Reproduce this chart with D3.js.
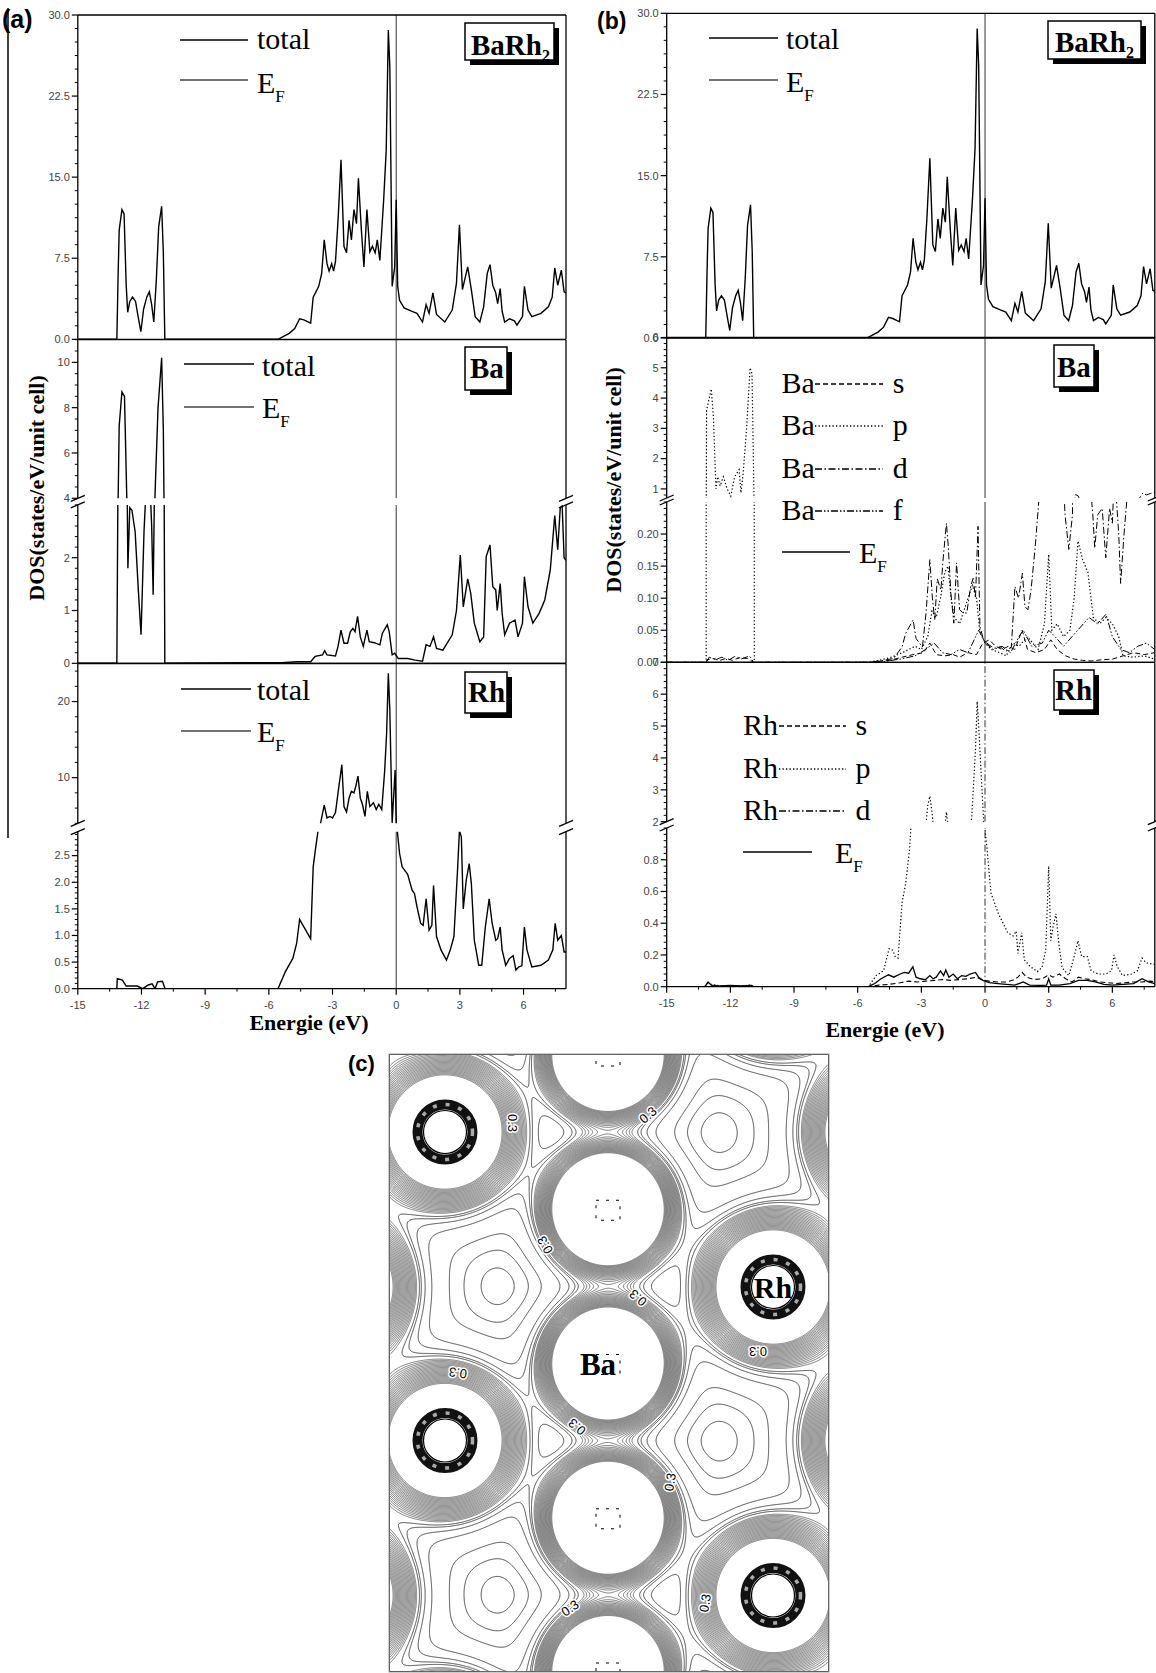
<!DOCTYPE html>
<html>
<head>
<meta charset="utf-8">
<script src="https://cdnjs.cloudflare.com/ajax/libs/d3/7.8.5/d3.min.js"></script>
<style>
body { margin: 0; background: #fff; }
svg { display: block; }
</style>
</head>
<body>
<script>
// ---- data -------------------------------------------------------------
var energyTicks = [-15, -12, -9, -6, -3, 0, 3, 6];

// total DOS BaRh2 [E (eV), states/eV/unit cell]
var totalDOS = [[-15,0],[-13.16,0],[-13.1,6],[-13.05,10.1],[-12.92,12.0],[-12.82,11.6],[-12.72,5],[-12.65,2.5],[-12.55,3.5],[-12.42,3.9],[-12.28,3.5],[-12.15,2.0],[-12.03,0.7],[-11.9,2.8],[-11.75,3.9],[-11.63,4.4],[-11.52,3.2],[-11.42,1.6],[-11.3,5.5],[-11.19,10.4],[-11.05,12.3],[-10.97,8],[-10.9,0],
  [-5.57,0],[-5.04,0.55],[-4.78,1.0],[-4.55,1.9],[-4.35,1.8],[-4.03,1.5],[-3.91,3.9],[-3.65,4.9],[-3.51,6.1],[-3.39,9.2],[-3.26,7.0],[-3.16,6.3],[-3.04,7.0],[-2.95,6.3],[-2.86,7.2],[-2.74,11.0],[-2.6,16.6],[-2.46,8.6],[-2.34,8.0],[-2.22,11.0],[-2.11,9.2],[-1.99,12.0],[-1.87,10.7],[-1.78,14.9],[-1.64,10.1],[-1.52,6.7],[-1.38,12.0],[-1.24,8.1],[-1.12,8.6],[-0.99,8.0],[-0.89,9.2],[-0.77,7.3],[-0.59,12.9],[-0.47,17.5],[-0.37,28.6],[-0.3,25.2],[-0.19,4.9],[-0.07,6.7],[0.0,12.9],[0.07,4.9],[0.16,3.6],[0.37,2.9],[0.72,2.6],[0.98,2.4],[1.24,1.6],[1.41,3.2],[1.55,2.4],[1.73,4.3],[1.9,2.3],[2.29,1.6],[2.64,2.7],[2.84,5.2],[2.98,10.6],[3.12,4.6],[3.37,6.7],[3.54,4.6],[3.72,2.1],[3.94,1.6],[4.12,3.0],[4.29,6.1],[4.42,6.9],[4.55,5.0],[4.69,4.3],[4.78,3.3],[4.9,4.7],[4.99,2.6],[5.11,1.6],[5.34,1.9],[5.57,1.7],[5.69,1.3],[5.95,2.1],[6.04,4.9],[6.21,2.7],[6.39,2.1],[6.82,2.4],[7.17,3.0],[7.35,3.9],[7.47,6.6],[7.61,5.0],[7.78,6.4],[7.91,4.4],[8.0,4.3]];

// Ba total (a)
var baTotal = [[-15,0],[-13.16,0],[-13.05,7.2],[-12.92,8.7],[-12.8,8.5],[-12.68,3.5],[-12.64,1.8],[-12.55,2.95],[-12.45,2.9],[-12.3,2.5],[-12.15,1.4],[-12.02,0.54],[-11.88,2.5],[-11.75,3.6],[-11.62,3.6],[-11.52,2.6],[-11.45,1.3],[-11.35,4.5],[-11.22,8.0],[-11.05,10.2],[-10.97,7],[-10.9,0],
  [-6.96,0.01],[-5.39,0.01],[-4.69,0.03],[-4.03,0.03],[-3.82,0.13],[-3.47,0.16],[-3.37,0.24],[-3.26,0.16],[-2.86,0.14],[-2.74,0.32],[-2.6,0.63],[-2.46,0.38],[-2.29,0.38],[-2.16,0.6],[-2.04,0.66],[-1.94,0.6],[-1.82,0.89],[-1.69,0.5],[-1.55,0.32],[-1.38,0.63],[-1.27,0.41],[-1.03,0.39],[-0.77,0.35],[-0.65,0.57],[-0.42,0.73],[-0.33,0.6],[-0.19,0.16],[-0.07,0.19],[0.1,0.09],[0.54,0.09],[0.89,0.06],[1.24,0.04],[1.41,0.35],[1.59,0.32],[1.76,0.5],[1.9,0.28],[2.2,0.25],[2.64,0.54],[2.84,1.0],[3.02,2.05],[3.16,1.07],[3.37,1.6],[3.51,1.33],[3.68,0.76],[3.94,0.41],[4.12,0.5],[4.24,2.02],[4.42,2.24],[4.55,1.45],[4.69,1.39],[4.76,1.0],[4.9,1.51],[4.99,0.95],[5.11,0.54],[5.34,0.76],[5.6,0.82],[5.74,0.5],[5.95,0.76],[6.04,1.64],[6.21,1.07],[6.44,0.76],[6.74,0.95],[7.0,1.2],[7.26,1.77],[7.47,2.8],[7.61,2.15],[7.73,2.95],[7.82,2.98],[7.91,2.0],[8.0,1.95]];

// Rh total (a)
var rhTotal = [[-15,0],[-13.16,0],[-13.14,0.19],[-12.9,0.16],[-12.72,0.05],[-12.2,0.05],[-11.94,0.0],[-11.68,0.07],[-11.5,0.09],[-11.36,0.0],[-11.24,0.13],[-11.01,0.14],[-10.89,0],[-5.57,0],[-5.22,0.32],[-4.87,0.57],[-4.69,0.85],[-4.55,1.3],[-4.35,1.16],[-4.03,0.94],[-3.91,2.29],[-3.79,2.66],[-3.68,2.97],[-3.6,3.5],[-3.56,4.06],[-3.39,6.4],[-3.26,4.7],[-3.12,4.9],[-3.0,4.7],[-2.86,5.4],[-2.74,8.0],[-2.56,11.7],[-2.46,6.2],[-2.34,5.5],[-2.22,7.3],[-2.11,8.2],[-1.99,8.0],[-1.9,8.9],[-1.8,10.2],[-1.69,7.3],[-1.59,6.5],[-1.47,4.9],[-1.36,8.2],[-1.24,6.2],[-1.07,6.7],[-0.94,5.8],[-0.82,6.5],[-0.68,5.8],[-0.54,11.0],[-0.45,15.9],[-0.37,23.7],[-0.3,18.9],[-0.19,4.06],[-0.05,11.0],[0.0,4.0],[0.05,2.97],[0.16,2.54],[0.28,2.29],[0.54,2.15],[0.75,1.85],[0.86,1.79],[0.98,1.54],[1.15,1.23],[1.27,1.19],[1.41,1.69],[1.55,1.1],[1.68,1.19],[1.76,1.94],[1.9,0.98],[2.11,0.73],[2.37,0.54],[2.55,0.73],[2.72,0.98],[2.89,2.23],[2.98,2.97],[3.07,2.85],[3.16,1.5],[3.3,2.04],[3.44,2.35],[3.54,1.98],[3.68,0.91],[3.89,0.44],[4.03,0.44],[4.2,1.16],[4.38,1.69],[4.52,1.23],[4.69,0.91],[4.78,0.94],[4.9,1.16],[4.99,0.73],[5.16,0.44],[5.34,0.57],[5.51,0.62],[5.64,0.35],[5.78,0.41],[5.92,0.43],[6.04,1.16],[6.16,0.73],[6.39,0.41],[6.82,0.44],[7.17,0.54],[7.38,0.73],[7.49,1.23],[7.61,0.91],[7.78,1.0],[7.91,0.69],[8.0,0.69]];

// Ba partial DOS (b)
var baS = [[-15,0],[-13.13,0],[-13.1,0.004],[-12.8,0.006],[-12.5,0.003],[-12.2,0.006],[-11.9,0.003],[-11.6,0.007],[-11.2,0.006],[-10.9,0],[-5.4,0],[-4.5,0.003],[-3.9,0.008],[-3.4,0.012],[-2.9,0.015],[-2.6,0.03],[-2.3,0.012],[-1.9,0.01],[-1.5,0.012],[-1.2,0.008],[-0.8,0.015],[-0.4,0.012],[-0.1,0.03],[0.2,0.035],[0.5,0.025],[0.8,0.02],[1.1,0.025],[1.4,0.02],[1.75,0.05],[2.0,0.02],[2.4,0.015],[2.8,0.02],[3.1,0.035],[3.4,0.02],[3.8,0.01],[4.2,0.005],[4.6,0.003],[5.0,0.002],[5.5,0.004],[6.0,0.005],[6.5,0.01],[7.0,0.015],[7.5,0.012],[8.0,0.015]];
var baP = [[-15,0],[-13.14,0],[-13.12,3.6],[-12.9,4.3],[-12.8,3.4],[-12.68,1.0],[-12.6,1.4],[-12.48,1.1],[-12.33,1.4],[-12.15,1.0],[-11.98,0.76],[-11.8,1.4],[-11.59,1.64],[-11.5,0.87],[-11.4,1.5],[-11.24,2.95],[-11.07,5.0],[-10.98,4.8],[-10.87,0],
  [-5.6,0],[-5.0,0.003],[-4.4,0.008],[-3.9,0.015],[-3.6,0.02],[-3.3,0.025],[-3.0,0.02],[-2.7,0.04],[-2.5,0.08],[-2.3,0.07],[-2.1,0.1],[-1.9,0.14],[-1.75,0.15],[-1.6,0.1],[-1.45,0.07],[-1.2,0.06],[-0.9,0.09],[-0.6,0.12],[-0.4,0.1],[-0.25,0.05],[0,0.03],[0.3,0.02],[0.7,0.015],[1.0,0.01],[1.3,0.03],[1.6,0.025],[2.0,0.04],[2.5,0.02],[2.8,0.06],[3.0,0.168],[3.15,0.05],[3.4,0.06],[3.7,0.04],[4.0,0.05],[4.2,0.1],[4.38,0.189],[4.6,0.16],[4.85,0.14],[5.1,0.07],[5.4,0.06],[5.7,0.07],[6.0,0.06],[6.3,0.04],[6.5,0.01],[7.0,0.008],[7.5,0.01],[8.0,0.005]];
var baD = [[-15,0],[-13.13,0],[-13.0,0.008],[-12.7,0.004],[-12.4,0.008],[-12.1,0.003],[-11.8,0.009],[-11.5,0.005],[-11.1,0.01],[-10.9,0],
  [-5.4,0],[-4.8,0.003],[-4.3,0.006],[-3.91,0.024],[-3.74,0.045],[-3.39,0.066],[-3.25,0.037],[-2.95,0.024],[-2.78,0.077],[-2.6,0.16],[-2.48,0.10],[-2.37,0.066],[-2.25,0.13],[-2.08,0.113],[-1.99,0.155],[-1.82,0.217],[-1.73,0.18],[-1.61,0.108],[-1.47,0.061],[-1.34,0.155],[-1.2,0.082],[-1.03,0.077],[-0.86,0.077],[-0.68,0.118],[-0.56,0.131],[-0.45,0.10],[-0.33,0.212],[-0.24,0.056],[-0.07,0.035],[0.19,0.027],[0.45,0.022],[0.72,0.024],[0.98,0.017],[1.24,0.024],[1.41,0.118],[1.58,0.10],[1.76,0.139],[1.88,0.087],[2.02,0.082],[2.17,0.113],[2.38,0.186],[2.6,0.28],[2.9,0.45],[3.25,0.55],[3.55,0.4],[3.77,0.23],[3.95,0.176],[4.12,0.23],[4.26,0.81],[4.38,0.78],[4.56,0.5],[4.9,0.3],[5.08,0.23],[5.17,0.178],[5.31,0.23],[5.52,0.24],[5.69,0.163],[5.87,0.24],[6.0,0.217],[6.1,0.3],[6.3,0.2],[6.39,0.123],[6.55,0.2],[6.8,0.3],[7.1,0.5],[7.44,0.87],[7.6,0.8],[7.8,0.85],[8.0,0.9]];
var baF = [[-15,0],[-5.0,0],[-4.0,0.005],[-3.3,0.01],[-2.8,0.02],[-2.4,0.03],[-2.0,0.015],[-1.6,0.012],[-1.2,0.02],[-0.8,0.015],[-0.3,0.05],[0.0,0.03],[0.4,0.02],[0.8,0.025],[1.2,0.015],[1.6,0.04],[1.8,0.05],[2.2,0.025],[2.7,0.03],[3.0,0.05],[3.3,0.04],[3.7,0.025],[4.1,0.04],[4.5,0.055],[4.9,0.07],[5.3,0.06],[5.7,0.075],[6.0,0.04],[6.4,0.02],[6.8,0.015],[7.2,0.025],[7.6,0.03],[8.0,0.02]];

// Rh partial DOS (b)
var rhS = [[-15,0],[-5.5,0],[-5.0,0.01],[-4.5,0.015],[-4.0,0.025],[-3.6,0.035],[-3.2,0.03],[-2.8,0.035],[-2.4,0.04],[-2.0,0.045],[-1.6,0.04],[-1.2,0.045],[-0.8,0.05],[-0.4,0.06],[-0.1,0.04],[0.2,0.035],[0.6,0.03],[1.0,0.03],[1.3,0.04],[1.55,0.06],[1.75,0.09],[1.95,0.06],[2.3,0.045],[2.7,0.05],[3.0,0.075],[3.2,0.06],[3.5,0.08],[3.8,0.05],[4.1,0.03],[4.4,0.06],[4.7,0.05],[5.0,0.045],[5.4,0.03],[5.8,0.025],[6.2,0.02],[6.6,0.025],[7.0,0.03],[7.4,0.03],[7.8,0.035],[8.0,0.03]];
var rhP = [[-15,0],[-13.2,0],[-13.1,0.02],[-12.9,0.015],[-12.5,0.005],[-11.5,0.005],[-11.1,0.01],[-10.9,0],
  [-5.5,0],[-5.13,0.07],[-4.78,0.1],[-4.52,0.24],[-4.35,0.23],[-4.23,0.19],[-4.1,0.18],[-3.91,0.53],[-3.74,0.65],[-3.56,0.86],[-3.4,1.2],[-3.1,1.5],[-2.8,1.8],[-2.7,2.5],[-2.6,2.8],[-2.5,2.3],[-2.4,1.6],[-2.1,1.5],[-1.9,1.8],[-1.82,2.3],[-1.75,1.9],[-1.5,1.5],[-1.0,1.6],[-0.7,1.9],[-0.63,2.1],[-0.45,4.25],[-0.37,5.77],[-0.28,4.77],[-0.16,3.2],[-0.07,2.1],[0.0,0.99],[0.1,0.86],[0.28,0.59],[0.63,0.46],[1.07,0.34],[1.33,0.32],[1.47,0.35],[1.55,0.21],[1.73,0.34],[1.85,0.17],[2.11,0.13],[2.46,0.095],[2.68,0.12],[2.86,0.23],[3.0,0.76],[3.1,0.29],[3.21,0.38],[3.34,0.46],[3.48,0.27],[3.63,0.12],[3.95,0.07],[4.2,0.19],[4.38,0.29],[4.55,0.19],[4.82,0.19],[5.0,0.1],[5.34,0.08],[5.7,0.08],[5.96,0.1],[6.08,0.2],[6.22,0.13],[6.48,0.07],[6.92,0.08],[7.18,0.1],[7.4,0.18],[7.6,0.15],[8.0,0.14]];
var rhD = [[-15,0],[-13.2,0],[-13.05,0.03],[-12.9,0.01],[-12.5,0.005],[-12,0.008],[-11.5,0.005],[-11,0.008],[-10.9,0],[-5.5,0],[-5.2,0.02],[-4.9,0.05],[-4.55,0.075],[-4.3,0.06],[-4.0,0.08],[-3.8,0.09],[-3.6,0.085],[-3.4,0.125],[-3.25,0.06],[-3.05,0.05],[-2.8,0.045],[-2.6,0.07],[-2.45,0.05],[-2.3,0.06],[-2.1,0.1],[-1.95,0.07],[-1.85,0.105],[-1.7,0.06],[-1.5,0.08],[-1.3,0.05],[-1.1,0.07],[-0.9,0.065],[-0.7,0.08],[-0.45,0.09],[-0.3,0.06],[-0.1,0.04],[0.2,0.025],[0.6,0.02],[1.0,0.015],[1.4,0.01],[1.6,0.02],[1.8,0.03],[2.1,0.01],[2.6,0.008],[2.9,0.01],[3.0,0.05],[3.1,0.01],[3.5,0.01],[4.0,0.02],[4.4,0.04],[4.8,0.04],[5.2,0.03],[5.6,0.015],[6.0,0.01],[6.5,0.015],[7.0,0.02],[7.4,0.05],[7.7,0.03],[8.0,0.02]];

// contour map (c): atom sites in map units (0..440 x 0..618), repeated by the cell periods
var baBase = [[219, 1]];
var rhBase = [[56, 78], [384, 233]];
var cellX = 437, baCellY = 154.25, rhCellY = 308.5;
var contourLabels = [[124,69,90],[259,61,-40],[156,191,240],[249,244,220],[369,298,180],[69,319,188],[188,373,220],[281,428,280],[181,554,-35],[316,549,-80]];
// sparse levels: rings around the density minima, then lines around the Ba-Rh saddle
var holeSteps = [1.35, 2.4, 4.5];
var saddleSteps = [0.6, 0.85, 1.04, 1.15];

// ---- drawing ----------------------------------------------------------
var svg = d3.select("body").append("svg").attr("width", 1156).attr("height", 1673);
var serif = "'Liberation Serif','Times New Roman',serif";
var sans = "'Liberation Sans',Arial,sans-serif";
var dashes = { dash: "5,3", dot: "1.3,2.2", dashdot: "7,2.5,1.5,2.5", dashdotdot: "7,2,1.5,2,1.5,2" };
var clipN = 0;

function drawPanel(p) {
  var x = d3.scaleLinear().domain([-15, 8]).range([p.left, p.right]);
  var g = svg.append("g");
  p.segs.forEach(function(s) {
    var y = d3.scaleLinear().domain(s.dom).range(s.rng);
    var id = "clip" + (clipN++);
    svg.append("clipPath").attr("id", id).append("rect")
      .attr("x", p.left).attr("y", s.rng[1])
      .attr("width", p.right - p.left).attr("height", s.rng[0] - s.rng[1]);
    var cg = g.append("g").attr("clip-path", "url(#" + id + ")");
    cg.append("line").attr("x1", x(0)).attr("x2", x(0)).attr("y1", s.rng[0]).attr("y2", s.rng[1])
      .attr("stroke", "#333").attr("stroke-width", 1).attr("stroke-dasharray", p.efDash || null);
    p.series.forEach(function(se) {
      cg.append("path").datum(se.data)
        .attr("d", d3.line().x(function(d) { return x(d[0]); }).y(function(d) { return y(d[1]); }))
        .attr("fill", "none").attr("stroke", "#000")
        .attr("stroke-width", se.w || 1.4)
        .attr("stroke-dasharray", se.dash ? dashes[se.dash] : null);
    });
    [p.left, p.right].forEach(function(xx) {
      g.append("line").attr("x1", xx).attr("x2", xx).attr("y1", s.rng[0]).attr("y2", s.rng[1])
        .attr("stroke", "#000").attr("stroke-width", 1.3);
    });
    var step = s.ticks[1] - s.ticks[0];
    var mstep = step / (s.minor + 1);
    var fmt = d3.format(s.fmt);
    for (var v = Math.ceil(s.dom[0] / mstep) * mstep; v <= s.dom[1] + 1e-9; v += mstep) {
      var isMajor = s.ticks.some(function(t) { return Math.abs(t - v) < mstep / 3; });
      if (isMajor) continue;
      g.append("line").attr("x1", p.left - 3).attr("x2", p.left).attr("y1", y(v)).attr("y2", y(v))
        .attr("stroke", "#000").attr("stroke-width", 1);
    }
    s.ticks.forEach(function(t) {
      g.append("line").attr("x1", p.left - 6).attr("x2", p.left).attr("y1", y(t)).attr("y2", y(t))
        .attr("stroke", "#000").attr("stroke-width", 1.2);
      g.append("text").attr("x", p.left - 8).attr("y", y(t)).attr("dy", "0.35em")
        .attr("text-anchor", "end").attr("font-family", sans).attr("font-size", 11)
        .attr("fill", "#444").text(fmt(t));
    });
  });
  var yb = p.segs[0].rng[0], yt = p.segs[p.segs.length - 1].rng[1];
  [yb, yt].forEach(function(yy) {
    g.append("line").attr("x1", p.left).attr("x2", p.right).attr("y1", yy).attr("y2", yy)
      .attr("stroke", "#000").attr("stroke-width", 1.3);
  });
  if (p.segs.length > 1) {
    var y1 = p.segs[0].rng[1], y2 = p.segs[1].rng[0];
    [p.left, p.right].forEach(function(xx) {
      [y1, y2].forEach(function(yy) {
        g.append("line").attr("x1", xx - 7).attr("x2", xx + 7).attr("y1", yy + 3).attr("y2", yy - 3)
          .attr("stroke", "#000").attr("stroke-width", 1.3);
      });
    });
  }
  if (p.xAxis) {
    energyTicks.forEach(function(t) {
      g.append("line").attr("x1", x(t)).attr("x2", x(t)).attr("y1", yb).attr("y2", yb + 6)
        .attr("stroke", "#000").attr("stroke-width", 1.2);
      g.append("line").attr("x1", x(t + 1.5)).attr("x2", x(t + 1.5)).attr("y1", yb).attr("y2", yb + 3)
        .attr("stroke", "#000").attr("stroke-width", 1);
      g.append("text").attr("x", x(t)).attr("y", yb + 20).attr("text-anchor", "middle")
        .attr("font-family", sans).attr("font-size", 11).attr("fill", "#444").text(t);
    });
    g.append("text").attr("x", p.xTitle[0]).attr("y", p.xTitle[1]).attr("text-anchor", "middle")
      .attr("font-family", serif).attr("font-weight", "bold").attr("font-size", 22).text("Energie (eV)");
  }
}

function labelBox(x0, y0, x1, y1, txt, sub, tx, ty) {
  svg.append("rect").attr("x", x0 + 5).attr("y", y0 + 5).attr("width", x1 - x0).attr("height", y1 - y0).attr("fill", "#000");
  svg.append("rect").attr("x", x0).attr("y", y0).attr("width", x1 - x0).attr("height", y1 - y0)
    .attr("fill", "#fff").attr("stroke", "#000").attr("stroke-width", 1.5);
  var t = svg.append("text").attr("x", tx).attr("y", ty).attr("font-family", serif)
    .attr("font-weight", "bold").attr("font-size", 29).text(txt);
  if (sub) t.append("tspan").attr("font-size", 16).attr("dy", 6).text(sub);
}

function legendLine(x1, x2, yy, dash, color) {
  svg.append("line").attr("x1", x1).attr("x2", x2).attr("y1", yy).attr("y2", yy)
    .attr("stroke", color || "#000").attr("stroke-width", 1.3)
    .attr("stroke-dasharray", dash ? dashes[dash] : null);
}
function legendText(xx, yy, txt, sub) {
  var t = svg.append("text").attr("x", xx).attr("y", yy).attr("font-family", serif).attr("font-size", 30).text(txt);
  if (sub) t.append("tspan").attr("font-size", 17).attr("dy", 9).text(sub);
}
function totalLegend(x1, x2, tx, y1, b1, y2, b2) {
  legendLine(x1, x2, y1, null, "#000"); legendText(tx, b1, "total");
  legendLine(x1, x2, y2, null, "#444"); legendText(tx, b2, "E", "F");
}

// column (a)
var aL = 77.8, aR = 566;
drawPanel({ left: aL, right: aR, series: [{ data: totalDOS }],
  segs: [{ dom: [0, 30], rng: [339.3, 15], ticks: [0, 7.5, 15, 22.5, 30], fmt: ".1f", minor: 5 }] });
drawPanel({ left: aL, right: aR, series: [{ data: baTotal }],
  segs: [{ dom: [0, 3], rng: [663.3, 504.9], ticks: [0, 1, 2], fmt: "d", minor: 4 },
         { dom: [4, 11], rng: [498.3, 339.7], ticks: [4, 6, 8, 10], fmt: "d", minor: 3 }] });
drawPanel({ left: aL, right: aR, series: [{ data: rhTotal }], xAxis: true, xTitle: [309, 1030],
  segs: [{ dom: [0, 2.95], rng: [988.7, 831.7], ticks: [0, 0.5, 1, 1.5, 2, 2.5], fmt: ".1f", minor: 4 },
         { dom: [4, 25], rng: [823.3, 663.5], ticks: [10, 20], fmt: "d", minor: 4 }] });

// column (b)
var bL = 666.7, bR = 1154.8;
drawPanel({ left: bL, right: bR, series: [{ data: totalDOS }],
  segs: [{ dom: [0, 30], rng: [338, 13.3], ticks: [0, 7.5, 15, 22.5, 30], fmt: ".1f", minor: 5 }] });
drawPanel({ left: bL, right: bR, series: [
    { data: baS, dash: "dash", w: 1 }, { data: baP, dash: "dot", w: 1.2 },
    { data: baD, dash: "dashdot", w: 1 }, { data: baF, dash: "dashdotdot", w: 1 }],
  segs: [{ dom: [0, 0.25], rng: [662.3, 502], ticks: [0, 0.05, 0.1, 0.15, 0.2], fmt: ".2f", minor: 4 },
         { dom: [0.7, 6], rng: [498, 337.5], ticks: [1, 2, 3, 4, 5, 6], fmt: "d", minor: 4 }] });
drawPanel({ left: bL, right: bR, efDash: dashes.dashdot, xAxis: true, xTitle: [885, 1037], series: [
    { data: rhS, dash: "dash", w: 1.1 }, { data: rhP, dash: "dot", w: 1.2 }, { data: rhD, w: 1.3 }],
  segs: [{ dom: [0, 1.0], rng: [986.7, 828], ticks: [0, 0.2, 0.4, 0.6, 0.8], fmt: ".1f", minor: 4 },
         { dom: [2, 7], rng: [821.7, 662.3], ticks: [2, 3, 4, 5, 6, 7], fmt: "d", minor: 4 }] });

labelBox(465, 23, 554, 60, "BaRh", "2", 471, 55);
labelBox(465, 347, 507, 390, "Ba", null, 470, 378);
labelBox(465, 672, 507, 713, "Rh", null, 468, 702);
labelBox(1048, 21, 1141, 59, "BaRh", "2", 1055, 52);
labelBox(1054, 345, 1094, 387, "Ba", null, 1057, 377);
labelBox(1054, 670, 1094, 710, "Rh", null, 1055, 700);

totalLegend(180, 248, 257, 40, 49, 80, 93);
totalLegend(184, 254, 262, 364, 376, 407, 418);
totalLegend(181, 251, 257, 689, 700, 731, 742);
totalLegend(709, 778, 786, 38, 49, 80, 92);
[["s", "dash", 393], ["p", "dot", 435], ["d", "dashdot", 478], ["f", "dashdotdot", 520]].forEach(function(r) {
  legendText(781.6, r[2], "Ba"); legendLine(815, 883, r[2] - 9, r[1]); legendText(892.7, r[2], r[0]);
});
legendLine(782, 850, 552, null); legendText(859, 563, "E", "F");
[["s", "dash", 735], ["p", "dot", 778], ["d", "dashdot", 820]].forEach(function(r) {
  legendText(743, r[2], "Rh"); legendLine(779, 846, r[2] - 9, r[1]); legendText(855.6, r[2], r[0]);
});
legendLine(743, 812, 852, null); legendText(835, 863, "E", "F");

[[44, 488], [621, 480]].forEach(function(pt) {
  svg.append("text").attr("transform", "translate(" + pt[0] + "," + pt[1] + ") rotate(-90)")
    .attr("text-anchor", "middle").attr("font-family", serif).attr("font-weight", "bold")
    .attr("font-size", 22).text("DOS(states/eV/unit cell)");
});
[["(a)", 2, 28, 25], ["(b)", 597, 29, 23], ["(c)", 348, 1071, 22]].forEach(function(l) {
  svg.append("text").attr("x", l[1]).attr("y", l[2]).attr("font-family", sans)
    .attr("font-weight", "bold").attr("font-size", l[3]).text(l[0]);
});
svg.append("line").attr("x1", 8).attr("x2", 8).attr("y1", 8).attr("y2", 838)
  .attr("stroke", "#000").attr("stroke-width", 1.5);

// ---- panel (c): charge density contours ------------------------------
var cL = 389, cT = 1054, cW = 440, cH = 618;
var cx = d3.scaleLinear().domain([0, cW]).range([cL, cL + cW]);
var cy = d3.scaleLinear().domain([0, cH]).range([cT, cT + cH]);

function repeatSites(base, cellY) {
  var out = [];
  base.forEach(function(b) {
    for (var ix = -1; ix <= 1; ix++) {
      for (var iy = -2; iy <= 5; iy++) {
        var sx = b[0] + ix * cellX, sy = b[1] + iy * cellY;
        if (sy > -250 && sy < cH + 250) out.push([sx, sy]);
      }
    }
  });
  return out;
}
var baSites = repeatSites(baBase, baCellY);
var rhSites = repeatSites(rhBase, rhCellY);

var lamRh = 18, lamBa = 12.5, ampBa = 3.72;
function fieldAt(px, py) {
  var v = 0, k, dx, dy;
  for (k = 0; k < rhSites.length; k++) {
    dx = px - rhSites[k][0]; dy = py - rhSites[k][1];
    v += Math.exp(-Math.sqrt(dx * dx + dy * dy) / lamRh);
  }
  for (k = 0; k < baSites.length; k++) {
    dx = px - baSites[k][0]; dy = py - baSites[k][1];
    v += ampBa * Math.exp(-Math.sqrt(dx * dx + dy * dy) / lamBa);
  }
  return v;
}
var grid = new Float64Array(cW * cH);
for (var j = 0; j < cH; j++) for (var i = 0; i < cW; i++) grid[j * cW + i] = fieldAt(i + 0.5, j + 0.5);

// lowest value on the straight path between two sites (approximate saddle)
function pathMin(a, b) {
  return d3.min(d3.range(5, 96), function(t) {
    return fieldAt(a[0] + (b[0] - a[0]) * t / 100, a[1] + (b[1] - a[1]) * t / 100);
  });
}
var bandLevels = d3.range(57, 80.5, 1.1).map(function(r) { return Math.exp(-r / lamRh); });
var outer = bandLevels[bandLevels.length - 1];
var lo = d3.min(grid);
var sd = Math.min(pathMin([219, 307], [384, 233]), pathMin([219, 153], [56, 78]), pathMin([384, 233], [493, 78]));
var sparseLevels = holeSteps.map(function(q) { return lo * q; })
  .concat(saddleSteps.map(function(q) { return sd * q; }))
  .filter(function(v) { return v < outer * 0.97; });

svg.append("clipPath").attr("id", "clipC").append("rect")
  .attr("x", cL).attr("y", cT).attr("width", cW).attr("height", cH);
var cg = svg.append("g").attr("clip-path", "url(#clipC)");
var cpath = d3.geoPath(d3.geoIdentity().translate([cL, cT]));
var contours = d3.contours().size([cW, cH]);
cg.selectAll("path.sp").data(contours.thresholds(sparseLevels)(grid)).enter().append("path")
  .attr("d", cpath).attr("fill", "none").attr("stroke", "#222").attr("stroke-width", 0.8);
cg.selectAll("path.bd").data(contours.thresholds(bandLevels)(grid)).enter().append("path")
  .attr("d", cpath).attr("fill", "none").attr("stroke", "#444").attr("stroke-width", 0.7);

rhSites.filter(function(s) { return s[0] > 0 && s[0] < cW && s[1] > 0 && s[1] < cH; }).forEach(function(s) {
  cg.append("circle").attr("cx", cx(s[0])).attr("cy", cy(s[1])).attr("r", 27.5)
    .attr("fill", "none").attr("stroke", "#111").attr("stroke-width", 10);
  cg.append("circle").attr("cx", cx(s[0])).attr("cy", cy(s[1])).attr("r", 27.5)
    .attr("fill", "none").attr("stroke", "#aaa").attr("stroke-width", 3.5).attr("stroke-dasharray", "4,9");
  cg.append("circle").attr("cx", cx(s[0])).attr("cy", cy(s[1])).attr("r", 21.5)
    .attr("fill", "none").attr("stroke", "#000").attr("stroke-width", 1.2);
});
baSites.filter(function(s) { return s[0] > 0 && s[0] < cW && s[1] > -10 && s[1] < cH + 10; }).forEach(function(s) {
  cg.append("rect").attr("x", cx(s[0]) - 12).attr("y", cy(s[1]) - 9).attr("width", 24).attr("height", 20)
    .attr("fill", "none").attr("stroke", "#000").attr("stroke-width", 1).attr("stroke-dasharray", "3,7");
});
cg.selectAll("text.lv").data(contourLabels).enter().append("text")
  .attr("transform", function(d) { return "translate(" + cx(d[0]) + "," + cy(d[1]) + ") rotate(" + d[2] + ")"; })
  .attr("text-anchor", "middle").attr("dy", "0.35em").attr("font-family", sans).attr("font-size", 13)
  .attr("stroke", "#fff").attr("stroke-width", 3).attr("paint-order", "stroke").attr("fill", "#000").text("0.3");
cg.append("text").attr("x", cx(384)).attr("y", cy(233) + 11).attr("text-anchor", "middle")
  .attr("font-family", serif).attr("font-weight", "bold").attr("font-size", 30).text("Rh");
cg.append("text").attr("x", cx(209)).attr("y", cy(321)).attr("text-anchor", "middle")
  .attr("font-family", serif).attr("font-weight", "bold").attr("font-size", 31).text("Ba");
svg.append("rect").attr("x", cL).attr("y", cT).attr("width", cW).attr("height", cH)
  .attr("fill", "none").attr("stroke", "#999").attr("stroke-width", 1);
</script>
</body>
</html>
